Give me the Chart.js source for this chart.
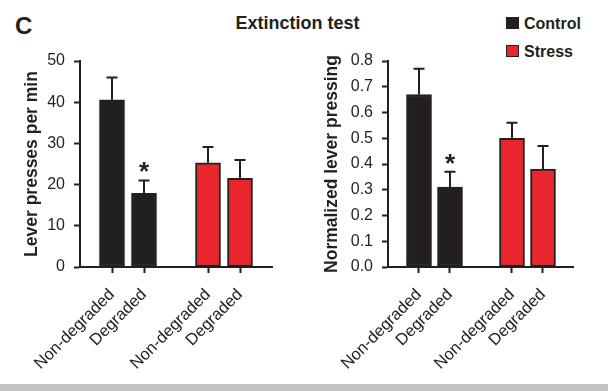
<!DOCTYPE html>
<html><head><meta charset="utf-8">
<script src="https://cdn.jsdelivr.net/npm/chart.js@4.4.1/dist/chart.umd.min.js"></script>
<style>
html,body{margin:0;padding:0;background:#fff;}
body{width:608px;height:391px;position:relative;overflow:hidden;font-family:"Liberation Sans",Arial,sans-serif;color:#231f20;}
.panel{position:absolute;top:0;width:300px;height:384px;}
#band{position:absolute;left:0;top:384px;width:608px;height:7px;background:#c2c2c2;}
#letter{position:absolute;left:15px;top:14px;font:bold 24px/24px "Liberation Sans",Arial,sans-serif;}
#title{position:absolute;left:297.5px;top:13.8px;transform:translateX(-50%);white-space:nowrap;font:bold 18px/18px "Liberation Sans",Arial,sans-serif;}
.leg{position:absolute;left:506px;white-space:nowrap;font:bold 16px/16px "Liberation Sans",Arial,sans-serif;}
.sw{position:absolute;left:0;width:13px;height:12px;box-sizing:border-box;}
.leg span.t{position:absolute;left:18px;top:0;}
</style>
</head>
<body>
<div id="letter">C</div>
<div id="title">Extinction test</div>
<div class="leg" style="top:15.5px"><div class="sw" style="top:1.5px;background:#231f20"></div><span class="t">Control</span></div>
<div class="leg" style="top:43.5px"><div class="sw" style="top:1.5px;background:#e8262c;border:1.5px solid #231f20"></div><span class="t">Stress</span></div>
<div class="panel" style="left:0"><canvas id="c1" width="300" height="384"></canvas></div>
<div class="panel" style="left:300px"><canvas id="c2" width="300" height="384"></canvas></div>
<div id="band"></div>
<script>
// ----- data -----
const categories = ['Non-degraded', 'Degraded'];
const seriesNames = ['Control', 'Stress'];

const pressesControl = [40.6, 17.9];
const pressesControlSEM = [5.4, 3.1];
const pressesStress = [25.3, 21.5];
const pressesStressSEM = [3.8, 4.5];

const normControl = [0.67, 0.31];
const normControlSEM = [0.10, 0.06];
const normStress = [0.50, 0.38];
const normStressSEM = [0.06, 0.09];

const controlSignificant = [false, true];
const stressSignificant = [false, false];

const pressesTicks = [0, 10, 20, 30, 40, 50];
const normTicks = [0, 0.1, 0.2, 0.3, 0.4, 0.5, 0.6, 0.7, 0.8];

// ----- styles -----
const INK = '#231f20';
const RED = '#e8262c';
const FONT = '"Liberation Sans", Arial, sans-serif';

// slot layout: blank, control group, blank, stress group, blank
const labels = ['', ...categories, '', ...categories, ''];
function padControl(arr) { return [null, ...arr, null, null, null, null]; }
function padStress(arr) { return [null, null, null, null, ...arr, null]; }

const errorBars = {
  id: 'errorBars',
  afterDatasetsDraw(chart) {
    const ctx = chart.ctx;
    const y = chart.scales.y;
    chart.data.datasets.forEach((ds, di) => {
      const meta = chart.getDatasetMeta(di);
      meta.data.forEach((bar, i) => {
        const v = ds.data[i];
        if (v == null) return;
        const e = ds.errors[i];
        const yb = y.getPixelForValue(v);
        const yt = y.getPixelForValue(v + e);
        ctx.save();
        ctx.strokeStyle = INK;
        ctx.lineWidth = 2;
        ctx.beginPath();
        ctx.moveTo(bar.x, yb);
        ctx.lineTo(bar.x, yt);
        ctx.moveTo(bar.x - 5.5, yt);
        ctx.lineTo(bar.x + 5.5, yt);
        ctx.stroke();
        if (ds.stars[i]) {
          ctx.fillStyle = INK;
          ctx.font = 'bold 26px ' + FONT;
          ctx.textAlign = 'center';
          ctx.textBaseline = 'alphabetic';
          const m = ctx.measureText('*');
          const off = (m.actualBoundingBoxAscent - m.actualBoundingBoxDescent) / 2;
          ctx.fillText('*', bar.x, yt - 13 + off);
        }
        ctx.restore();
      });
    });
  }
};

function makeChart(id, ctrl, ctrlErr, str, strErr, ticksArr, yTitle, axisX, rightPad, decimals) {
  const sigC = padControl(controlSignificant);
  const sigS = padStress(stressSignificant);
  return new Chart(document.getElementById(id), {
    type: 'bar',
    data: {
      labels: labels,
      datasets: [
        { label: seriesNames[0], data: padControl(ctrl), errors: padControl(ctrlErr), stars: sigC,
          backgroundColor: INK, borderColor: INK, borderWidth: 2, borderSkipped: false,
          barThickness: 25, grouped: false },
        { label: seriesNames[1], data: padStress(str), errors: padStress(strErr), stars: sigS,
          backgroundColor: RED, borderColor: INK, borderWidth: 2, borderSkipped: false,
          barThickness: 25, grouped: false }
      ]
    },
    options: {
      responsive: false,
      animation: false,
      devicePixelRatio: 1,
      layout: { padding: { top: 61, right: rightPad, left: 0, bottom: 0 } },
      plugins: { legend: { display: false }, tooltip: { enabled: false }, title: { display: false } },
      scales: {
        x: {
          type: 'category',
          offset: false,
          grid: {
            display: true, offset: false, drawOnChartArea: false, drawTicks: true, tickLength: 6, tickWidth: 2,
            tickColor: (c) => (labels[c.index] ? INK : 'rgba(0,0,0,0)')
          },
          border: { display: true, color: INK, width: 2 },
          ticks: { autoSkip: false, minRotation: 45, maxRotation: 45, color: INK, padding: 12,
                   font: { family: FONT, size: 16.5 } },
          afterFit: (s) => { s.height = 117; }
        },
        y: {
          min: ticksArr[0], max: ticksArr[ticksArr.length - 1],
          afterBuildTicks: (s) => { s.ticks = ticksArr.map(v => ({ value: v })); },
          grid: { display: true, drawOnChartArea: false, drawTicks: true, tickLength: 6, tickWidth: 2, tickColor: INK },
          border: { display: true, color: INK, width: 2 },
          ticks: { color: INK, padding: 9, font: { family: FONT, size: 16 },
                   callback: (v) => Number(v).toFixed(decimals) },
          title: { display: true, text: yTitle, color: INK, padding: { top: 21.5, bottom: 0 },
                   font: { family: FONT, size: 17.5, weight: 'bold' } },
          afterFit: (s) => { s.width = axisX; }
        }
      }
    },
    plugins: [errorBars]
  });
}

makeChart('c1', pressesControl, pressesControlSEM, pressesStress, pressesStressSEM,
          pressesTicks, 'Lever presses per min', 80, 28, 0);
makeChart('c2', normControl, normControlSEM, normStress, normStressSEM,
          normTicks, 'Normalized lever pressing', 88, 21, 1);
</script>
</body></html>
